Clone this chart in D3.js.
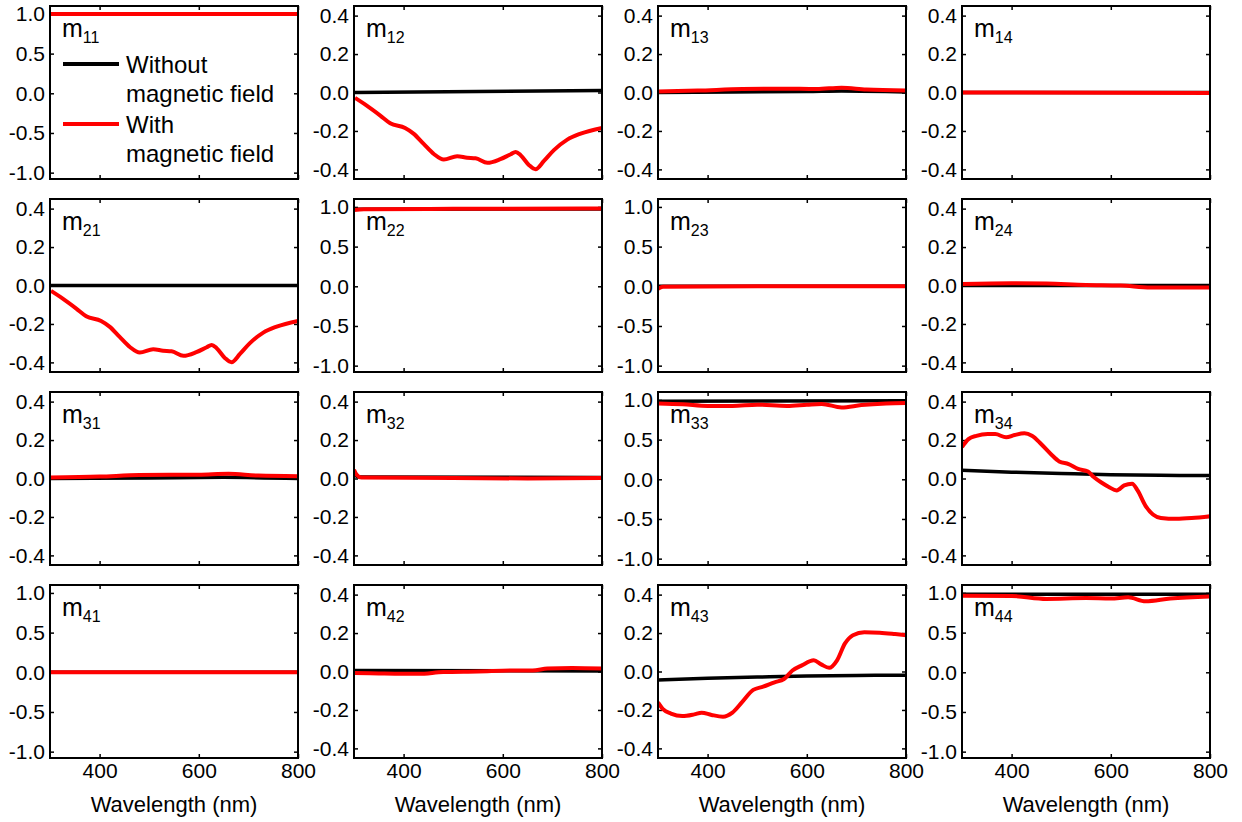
<!DOCTYPE html>
<html>
<head>
<meta charset="utf-8">
<script src="https://cdn.jsdelivr.net/npm/d3@7"></script>
<style>
    body { margin: 0; background: #fff; }
    svg { display: block; font-family: "Liberation Sans", Arial, sans-serif; }
    .axis text { font-family: "Liberation Sans", Arial, sans-serif; font-size: 21px; fill: #000; }
    .axis line { stroke: #000; stroke-width: 1.5; }
</style>
</head>
<body>
<div id="mueller-chart"></div>
<script>

// ---- data (wavelength nm, matrix element) ----
var wlTicks = [400, 600, 800];
var wideTicks = [-1.0, -0.5, 0.0, 0.5, 1.0];
var narrowTicks = [-0.4, -0.2, 0.0, 0.2, 0.4];
var elementNames = ["11", "12", "13", "14", "21", "22", "23", "24",
                    "31", "32", "33", "34", "41", "42", "43", "44"];
var elementRange = ["wide", "narrow", "narrow", "narrow",
                    "narrow", "wide", "wide", "narrow",
                    "narrow", "narrow", "wide", "narrow",
                    "wide", "narrow", "narrow", "wide"];
var legendLabels = [["Without", "magnetic field"], ["With", "magnetic field"]];

var m11Without = [[300, 1.0], [800, 1.0]];
var m11With = [[300, 1.0], [800, 1.0]];
var m12Without = [[300, 0.0], [550, 0.005], [800, 0.01]];
var m12With = [[302, -0.028], [325, -0.067], [353, -0.12], [373, -0.16], [403, -0.185],
    [420, -0.214], [440, -0.266], [461, -0.32], [481, -0.349], [508, -0.332],
    [528, -0.339], [545, -0.342], [569, -0.366], [595, -0.347], [616, -0.321],
    [626, -0.309], [636, -0.326], [653, -0.378], [666, -0.399], [683, -0.356],
    [703, -0.30], [730, -0.245], [757, -0.214], [800, -0.184]];
var m13Without = [[300, 0.0], [450, 0.003], [600, 0.005], [670, 0.008], [800, 0.003]];
var m13With = [[300, 0.005], [380, 0.01], [470, 0.018], [550, 0.02], [620, 0.018],
    [670, 0.025], [720, 0.015], [800, 0.01]];
var m14Without = [[300, 0.0], [800, 0.0]];
var m14With = [[300, 0.0], [800, -0.002]];

var m21Without = [[300, 0.0], [800, 0.0]];
var m21With = [[302, -0.028], [325, -0.067], [353, -0.12], [373, -0.16], [403, -0.185],
    [420, -0.214], [440, -0.266], [461, -0.32], [481, -0.349], [508, -0.332],
    [528, -0.339], [545, -0.342], [569, -0.366], [595, -0.347], [616, -0.321],
    [626, -0.309], [636, -0.326], [653, -0.378], [666, -0.399], [683, -0.356],
    [703, -0.30], [730, -0.245], [757, -0.214], [800, -0.184]];
var m22Without = [[300, 0.97], [800, 0.975]];
var m22With = [[300, 0.962], [320, 0.972], [500, 0.976], [800, 0.98]];
var m23Without = [[300, 0.0], [800, 0.0]];
var m23With = [[300, -0.03], [310, -0.006], [500, 0.0], [800, 0.0]];
var m24Without = [[300, 0.0], [800, 0.0]];
var m24With = [[300, 0.008], [400, 0.012], [470, 0.01], [550, 0.003], [620, 0.0],
    [680, -0.01], [740, -0.01], [800, -0.01]];

var m31Without = [[300, 0.0], [500, 0.003], [650, 0.006], [800, 0.0]];
var m31With = [[300, 0.005], [400, 0.01], [480, 0.018], [600, 0.02], [660, 0.025],
    [720, 0.015], [800, 0.012]];
var m32Without = [[300, 0.02], [310, 0.008], [800, 0.005]];
var m32With = [[300, 0.045], [305, 0.02], [315, 0.005], [500, 0.003], [650, 0.0], [800, 0.003]];
var m33Without = [[300, 0.985], [800, 0.99]];
var m33With = [[300, 0.955], [350, 0.945], [400, 0.925], [450, 0.925], [500, 0.94],
    [560, 0.925], [600, 0.94], [630, 0.95], [670, 0.905], [710, 0.935], [760, 0.955], [800, 0.96]];
var m34Without = [[300, 0.043], [400, 0.033], [500, 0.026], [600, 0.02], [700, 0.017], [800, 0.015]];
var m34With = [[300, 0.164], [313, 0.205], [329, 0.222], [352, 0.231], [367, 0.231],
    [389, 0.214], [406, 0.226], [426, 0.235], [441, 0.222], [460, 0.178],
    [480, 0.125], [496, 0.089], [515, 0.075], [534, 0.05], [554, 0.036],
    [565, 0.009], [581, -0.021], [596, -0.044], [612, -0.062], [627, -0.036],
    [643, -0.027], [654, -0.062], [670, -0.142], [685, -0.187], [701, -0.205],
    [732, -0.21], [763, -0.206], [800, -0.196]];

var m41Without = [[300, 0.0], [800, 0.0]];
var m41With = [[300, 0.0], [800, 0.0]];
var m42Without = [[300, 0.005], [800, 0.003]];
var m42With = [[300, -0.008], [350, -0.01], [430, -0.012], [480, -0.003], [550, 0.0],
    [620, 0.005], [660, 0.005], [690, 0.015], [740, 0.018], [800, 0.015]];
var m43Without = [[300, -0.044], [400, -0.035], [500, -0.029], [600, -0.024], [700, -0.021], [800, -0.019]];
var m43With = [[300, -0.161], [310, -0.196], [326, -0.219], [349, -0.232], [373, -0.223],
    [388, -0.214], [408, -0.226], [431, -0.235], [450, -0.214], [469, -0.161],
    [492, -0.096], [512, -0.079], [535, -0.056], [554, -0.039], [571, 0.005],
    [590, 0.032], [614, 0.058], [629, 0.037], [645, 0.019], [661, 0.058],
    [677, 0.146], [693, 0.189], [716, 0.204], [747, 0.202], [778, 0.195], [800, 0.189]];
var m44Without = [[300, 0.985], [800, 0.985]];
var m44With = [[300, 0.965], [400, 0.962], [470, 0.925], [550, 0.935], [600, 0.93],
    [635, 0.945], [670, 0.895], [720, 0.93], [800, 0.955]];

var withoutSeries = [m11Without, m12Without, m13Without, m14Without,
                     m21Without, m22Without, m23Without, m24Without,
                     m31Without, m32Without, m33Without, m34Without,
                     m41Without, m42Without, m43Without, m44Without];
var withSeries = [m11With, m12With, m13With, m14With,
                  m21With, m22With, m23With, m24With,
                  m31With, m32With, m33With, m34With,
                  m41With, m42With, m43With, m44With];

// ---- layout ----
var svgWidth = 1242, svgHeight = 822;
var panelW = 248, panelH = 173;
var colStep = 304, rowStep = 193;
var origin = {left: 50, top: 6};

var svg = d3.select("#mueller-chart").append("svg")
    .attr("width", svgWidth)
    .attr("height", svgHeight);

var x = d3.scaleLinear().domain([300, 800]).range([0, panelW]);
var yWide = d3.scaleLinear().domain([-1.08, 1.1]).range([panelH, 0]);
var yNarrow = d3.scaleLinear().domain([-0.45, 0.45]).range([panelH, 0]);

elementNames.forEach(function(name, i) {
    var row = Math.floor(i / 4), col = i % 4;
    var wide = elementRange[i] == "wide";
    var y = wide ? yWide : yNarrow;
    var ticks = wide ? wideTicks : narrowTicks;

    var g = svg.append("g")
        .attr("transform", "translate(" + (origin.left + col * colStep) + "," + (origin.top + row * rowStep) + ")");

    g.append("clipPath")
        .attr("id", "clip" + name)
        .append("rect")
        .attr("width", panelW)
        .attr("height", panelH);

    //axes with inward ticks on all four sides
    g.append("g").attr("class", "axis")
        .call(d3.axisLeft(y).tickValues(ticks).tickSize(-4).tickPadding(5)
            .tickFormat(function(d) { return d.toFixed(1); }))
        .call(function(a) { a.select(".domain").remove(); });

    g.append("g").attr("class", "axis")
        .attr("transform", "translate(" + panelW + ",0)")
        .call(d3.axisRight(y).tickValues(ticks).tickSize(-4).tickFormat(""))
        .call(function(a) { a.select(".domain").remove(); });

    g.append("g").attr("class", "axis")
        .call(d3.axisTop(x).tickValues(wlTicks).tickSize(-4).tickFormat(""))
        .call(function(a) { a.select(".domain").remove(); });

    var bottom = d3.axisBottom(x).tickValues(wlTicks).tickSize(-4).tickPadding(5);
    if (row < 3) bottom.tickFormat("");
    g.append("g").attr("class", "axis")
        .attr("transform", "translate(0," + panelH + ")")
        .call(bottom)
        .call(function(a) { a.select(".domain").remove(); });

    if (row == 3) {
        g.append("text")
            .attr("x", panelW / 2)
            .attr("y", panelH + 54)
            .attr("text-anchor", "middle")
            .style("font-size", "22px")
            .text("Wavelength (nm)");
    }

    var line = d3.line()
        .x(function(d) { return x(d[0]); })
        .y(function(d) { return y(d[1]); })
        .curve(d3.curveMonotoneX);

    var lines = g.append("g").attr("clip-path", "url(#clip" + name + ")");

    lines.append("path")
        .datum(withoutSeries[i])
        .attr("d", line)
        .attr("fill", "none")
        .attr("stroke", "#000")
        .attr("stroke-width", 3.5);

    lines.append("path")
        .datum(withSeries[i])
        .attr("d", line)
        .attr("fill", "none")
        .attr("stroke", "#ff0000")
        .attr("stroke-width", 4);

    //frame
    g.append("rect")
        .attr("width", panelW)
        .attr("height", panelH)
        .attr("fill", "none")
        .attr("stroke", "#000")
        .attr("stroke-width", 2);

    //element label m_ij
    var label = g.append("text")
        .attr("x", 12)
        .attr("y", 31)
        .style("font-size", "25px")
        .text("m");
    label.append("tspan")
        .attr("dy", 6)
        .style("font-size", "16px")
        .text(name);

    //legend only in the first panel
    if (i == 0) {
        var legendColors = ["#000", "#ff0000"];
        legendLabels.forEach(function(lines2, k) {
            var ly = 58 + k * 60;
            g.append("line")
                .attr("x1", 13).attr("x2", 69)
                .attr("y1", ly).attr("y2", ly)
                .attr("stroke", legendColors[k])
                .attr("stroke-width", 4);
            lines2.forEach(function(t, j) {
                g.append("text")
                    .attr("x", 76)
                    .attr("y", ly + 9 + j * 29)
                    .style("font-size", "24px")
                    .text(t);
            });
        });
    }
});

</script>
</body>
</html>
